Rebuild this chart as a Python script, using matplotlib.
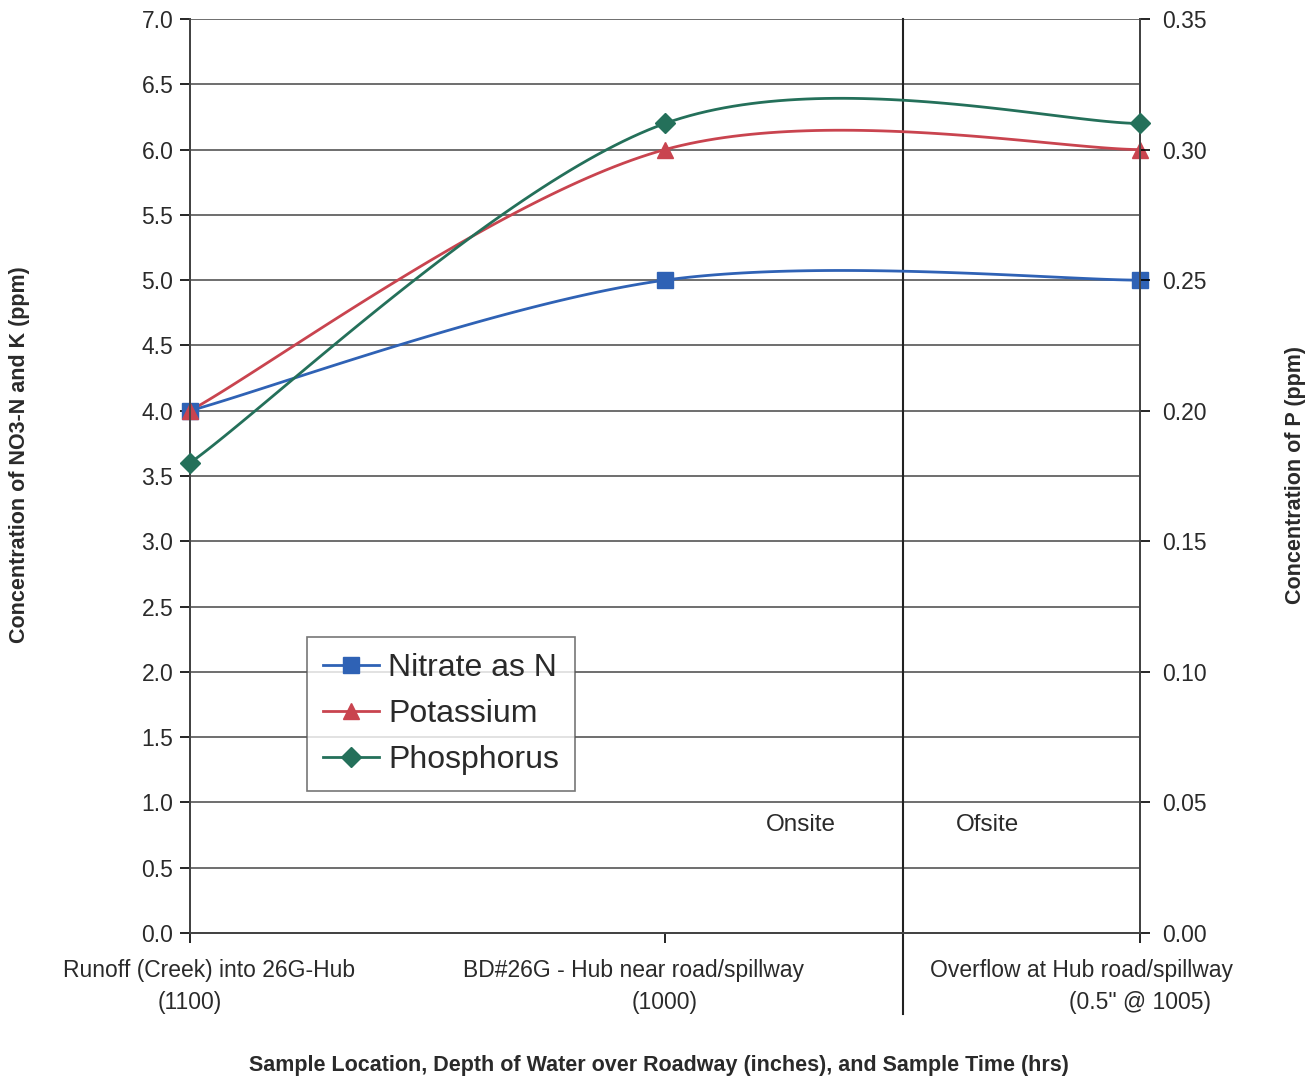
import numpy as np
import matplotlib
matplotlib.use("Agg")
import matplotlib.pyplot as plt

plt.rcParams["font.family"] = ["Liberation Sans", "DejaVu Sans"]

# data
loc_names = ["Runoff (Creek) into 26G-Hub",
             "BD#26G - Hub near road/spillway",
             "Overflow at Hub road/spillway"]
loc_times = ["(1100)", "(1000)", "(0.5\" @ 1005)"]
nitrate = [4.0, 5.0, 5.0]
potassium = [4.0, 6.0, 6.0]
phosphorus = [0.18, 0.31, 0.31]
left_ticks = np.arange(0, 7.01, 0.5)
right_ticks = np.arange(0, 0.351, 0.05)

BLUE, RED, GREEN = "#2f62b5", "#c9444f", "#24705a"
TXT = "#2a2a2a"
W, H = 1314, 1081


def smooth(y, n=60):
    # Excel-style smoothed line: cubic Bezier with 1/6 neighbour tangents
    x = np.arange(len(y), dtype=float); y = np.asarray(y, float)
    P = np.column_stack([x, y])
    P = np.vstack([P[0], P, P[-1]])
    out = []
    t = np.linspace(0, 1, n)[:, None]
    for i in range(1, len(P) - 2):
        p0, p3 = P[i], P[i + 1]
        c1 = p0 + (P[i + 1] - P[i - 1]) / 6
        c2 = p3 - (P[i + 2] - P[i]) / 6
        out.append((1 - t) ** 3 * p0 + 3 * (1 - t) ** 2 * t * c1
                   + 3 * (1 - t) * t ** 2 * c2 + t ** 3 * p3)
    seg = np.vstack(out)
    return seg[:, 0], seg[:, 1]


fig = plt.figure(figsize=(W / 100, H / 100), dpi=100)
ax = fig.add_axes([190 / W, 1 - 933 / H, (1140 - 190) / W, (933 - 19) / H])
ax2 = ax.twinx()

xs = np.arange(len(loc_names))
for vals, col, mk, ms in [(nitrate, BLUE, "s", 12), (potassium, RED, "^", 12)]:
    sx, sy = smooth(vals)
    ax.plot(sx, sy, color=col, lw=2, zorder=3)
    ax.plot(xs, vals, ls="none", marker=mk, ms=ms, color=col, zorder=4, clip_on=False)
sx, sy = smooth(phosphorus)
ax2.plot(sx, sy, color=GREEN, lw=2, zorder=3)
ax2.plot(xs, phosphorus, ls="none", marker="D", ms=10.5, color=GREEN, zorder=4, clip_on=False)

ax.set_xlim(0, 2)
ax.set_ylim(0, 7)
ax2.set_ylim(0, 0.35)
ax.set_yticks(left_ticks)
ax.set_yticklabels([f"{v:.1f}" for v in left_ticks])
ax2.set_yticks(right_ticks)
ax2.set_yticklabels([f"{v:.2f}" for v in right_ticks])
ax.set_xticks(xs)
ax.set_xticklabels([""] * len(xs))
ax.tick_params(axis="y", labelsize=16.5, labelcolor=TXT, length=7, width=1.2, pad=5)
ax2.tick_params(axis="y", labelsize=16.5, labelcolor=TXT, length=7, width=1.2, pad=9)
ax.tick_params(axis="x", length=7, width=1.2)
ax.grid(axis="y", color="#555555", lw=1.2)
ax.set_axisbelow(True)
for a in (ax, ax2):
    for s in a.spines.values():
        s.set_color("#444444"); s.set_linewidth(1.4)
    a.spines["top"].set_visible(False)

# category labels: first line sits a bit off the tick, as in the original
xt = ax.get_xaxis_transform()
line1_x = [0.04, 0.934, 1.876]
for i in range(len(xs)):
    ax.text(line1_x[i], -0.0405, loc_names[i], transform=xt, ha="center", va="center",
            fontsize=16.5, color=TXT)
    ax.text(xs[i], -0.0765, loc_times[i], transform=xt, ha="center", va="center",
            fontsize=16.5, color=TXT)

# Onsite / Ofsite separator
ax.plot([1.5, 1.5], [7.0, -0.62], color="#222222", lw=1.5, clip_on=False, zorder=2)
ax.text(1.286, 0.83, "Onsite", fontsize=17.5, ha="center", va="center", color=TXT)
ax.text(1.678, 0.83, "Ofsite", fontsize=17.5, ha="center", va="center", color=TXT)

# axis titles placed in figure pixels
fig.text(20 / W, 1 - 455 / H, "Concentration of NO3-N and K (ppm)", rotation=90,
         ha="center", va="center", fontsize=15.5, fontweight="bold", color=TXT)
fig.text(1296 / W, 1 - 475 / H, "Concentration of P (ppm)", rotation=90,
         ha="center", va="center", fontsize=15.5, fontweight="bold", color=TXT)
fig.text(659 / W, 1 - 1066 / H,
         "Sample Location, Depth of Water over Roadway (inches), and Sample Time (hrs)",
         ha="center", va="center", fontsize=15.5, fontweight="bold", color=TXT)

handles = [plt.Line2D([], [], color=BLUE, lw=2, marker="s", ms=12),
           plt.Line2D([], [], color=RED, lw=2, marker="^", ms=12),
           plt.Line2D([], [], color=GREEN, lw=2, marker="D", ms=10.5)]
leg = ax.legend(handles, ["Nitrate as N", "Potassium", "Phosphorus"],
                loc="upper left", bbox_to_anchor=(307 / W, 1 - 637 / H),
                bbox_transform=fig.transFigure, borderaxespad=0, fontsize=23,
                frameon=True, fancybox=False, handlelength=1.75, labelspacing=0.5,
                borderpad=0.5, handletextpad=0.3, labelcolor=TXT)
leg.get_frame().set_edgecolor("#555555")
leg.get_frame().set_linewidth(1.2)
leg.set_zorder(5)

fig.savefig("out.png", dpi=100)
